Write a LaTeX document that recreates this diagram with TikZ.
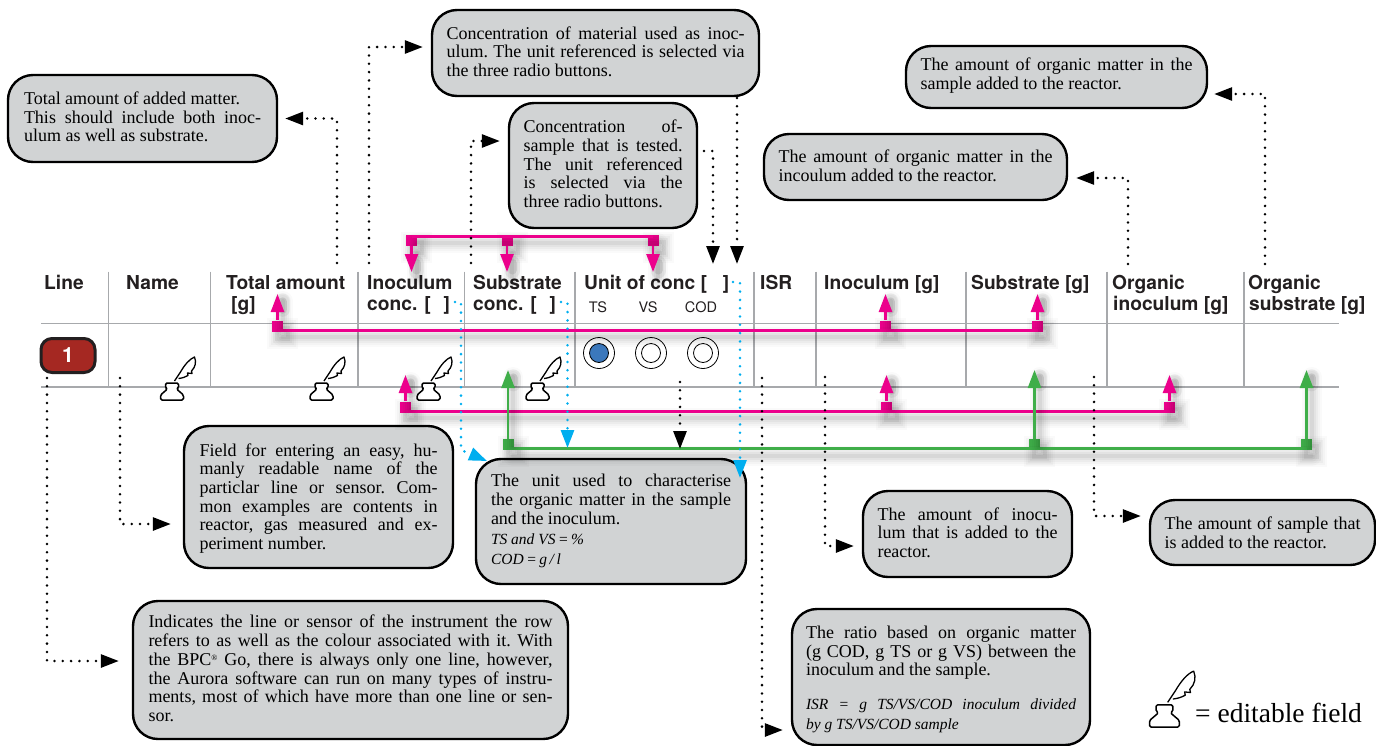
\documentclass[tikz,border=0pt]{standalone}
\usepackage{fontspec}
\setmainfont{Liberation Serif}
\newfontfamily\hdrfont{TeX Gyre Heros}
\usetikzlibrary{arrows.meta}
\definecolor{mag}{HTML}{EC008C}
\definecolor{grn}{HTML}{3FAE49}
\definecolor{cyn}{HTML}{00AEEF}
\definecolor{boxfill}{HTML}{D1D3D4}
\definecolor{gridc}{HTML}{A7A9AC}
\definecolor{hdrc}{HTML}{231F20}
\definecolor{badge}{HTML}{A52822}
\definecolor{radioblue}{HTML}{3B78BC}
\newcommand{\jl}[1]{\leavevmode\hbox to\linewidth{#1}}
\newcommand{\itl}[1]{{\itshape\fontsize{15.5}{18.7}\selectfont #1}}
\tikzset{
  x=1pt,y=-1pt,
  softshadow/.style={
    preaction={draw=black,draw opacity=.02,line width=20pt,line cap=round,transform canvas={shift={(5pt,-7pt)}},-},
    preaction={draw=black,draw opacity=.025,line width=16pt,line cap=round,transform canvas={shift={(5pt,-7pt)}},-},
    preaction={draw=black,draw opacity=.03,line width=12pt,line cap=round,transform canvas={shift={(5pt,-7pt)}},-},
    preaction={draw=black,draw opacity=.04,line width=8pt,line cap=round,transform canvas={shift={(5pt,-7pt)}},-},
    preaction={draw=black,draw opacity=.05,line width=4pt,line cap=round,transform canvas={shift={(5pt,-7pt)}},-}},
  headshadow/.style={
    preaction={draw=black,draw opacity=.06,line width=15pt,line cap=round,shorten <=#1,shorten >=4pt,transform canvas={shift={(5pt,-3pt)}},-},
    preaction={draw=black,draw opacity=.09,line width=9pt,line cap=round,shorten <=#1,shorten >=5pt,transform canvas={shift={(5pt,-3pt)}},-}},
  callout/.style={draw=black,line width=2.4pt,fill=boxfill,rounded corners=25pt,inner sep=0pt,align=flush left,text=black,
    font=\frenchspacing\fontsize{18}{18.7}\selectfont,execute at end node={\par\vspace{3pt}}},
  textdown/.style={execute at end node={\vspace{-#1pt}}},
  grid/.style={draw=gridc,line width=1.3pt},
  head/.style={font=\hdrfont\bfseries\fontsize{19.2}{21}\selectfont,text=hdrc,anchor=base west,inner sep=0pt},
  subhead/.style={font=\hdrfont\fontsize{14.5}{17}\selectfont,text=hdrc,anchor=base,inner sep=0pt},
  sqm/.style={draw=none,fill=mag,minimum size=11pt,inner sep=0pt,softshadow},
  sqg/.style={draw=none,fill=grn,minimum size=11pt,inner sep=0pt,softshadow},
  magarrow/.style={draw=mag,line width=2.6pt,-{Triangle[length=18pt,width=13pt]},softshadow,headshadow=14pt},
  grnarrow/.style={draw=grn,line width=2.6pt,-{Triangle[length=18pt,width=13pt]},softshadow,headshadow=58pt},
  magbar/.style={draw=mag,line width=2.6pt,softshadow},
  grnbar/.style={draw=grn,line width=2.6pt,softshadow},
  dotblack/.style={draw=black,line width=2.8pt,line cap=round,dash pattern=on 0pt off 8.3pt,-{Triangle[length=18pt,width=13pt]}},
  dotcyan/.style={draw=cyn,line width=2.8pt,line cap=round,dash pattern=on 0pt off 8.3pt,-{Triangle[length=18pt,width=13pt]}},
  radio/.style={draw=black,line width=.8pt,circle,inner sep=0pt},
  quillicon/.pic={
    \draw[line width=1.5pt,line join=round,rounded corners=1.5pt,fill=white]
      (5,-17) -- (18,-17) -- (18,-12) -- (16,-11) -- (23,-5) -- (23,0) -- (0,0) -- (0,-5) -- (7,-11) -- (5,-12) -- cycle;
    \draw[line width=1.3pt,line join=round,fill=white]
      (14,-19) -- (20,-28) .. controls (24,-35) and (29,-41) .. (34,-43)
      .. controls (36,-38) and (35,-33) .. (31,-29) -- (31.5,-26.5) -- (27,-27) -- (27.5,-24.5) .. controls (25,-23) and (22,-22) .. (18,-21.5);
  }
}
\begin{document}
\begin{tikzpicture}
\useasboundingbox (0,0) rectangle (1376,745);
% table grid
\foreach \gx in {108.5,210.5,358,464.5,575,754,816,966,1107,1244}
  \draw[grid] (\gx,271.5) -- (\gx,387);
\draw[grid] (41,323.5) -- (1339,323.5);
\draw[grid] (41,387) -- (1339,387);
% headers
\node[head] (hLine) at (44,289) {Line};
\node[head] (hName) at (126,289) {Name};
\node[head] (hTot) at (226,289) {Total amount};
\node[head] (hTotb) at (231,310) {[g]};
\node[head] (hIno) at (367,289) {Inoculum};
\node[head] (hInob) at (367,310) {conc. [\,\,\,\,]};
\node[head] (hSub) at (473,289) {Substrate};
\node[head] (hSubb) at (473,310) {conc. [\,\,\,\,]};
\node[head] (hUnit) at (584,289) {Unit of conc [\,\,\,\,\,]};
\node[subhead] (hTS) at (598,312) {TS};
\node[subhead] (hVS) at (648,312) {VS};
\node[subhead] (hCOD) at (701,312) {COD};
\node[head] (hISR) at (760,289) {ISR};
\node[head] (hIg) at (824,289) {Inoculum [g]};
\node[head] (hSg) at (971,289) {Substrate [g]};
\node[head] (hOi) at (1112,289) {Organic};
\node[head] (hOib) at (1113,310) {inoculum [g]};
\node[head] (hOs) at (1248,289) {Organic};
\node[head] (hOsb) at (1249,310) {substrate [g]};
% badge
\node[draw=hdrc,line width=3pt,fill=badge,rounded corners=11pt,minimum width=54pt,minimum height=34pt,inner sep=0pt,
  text=white,font=\hdrfont\bfseries\fontsize{21}{21}\selectfont] (badge1) at (68,355.5) {1};
% radios
\node[radio,minimum size=31pt] (r1) at (599,353) {};
\node[radio,minimum size=19pt,fill=radioblue] (r1i) at (599,353) {};
\node[radio,minimum size=31pt] (r2) at (651,353) {};
\node[radio,minimum size=19pt] (r2i) at (651,353) {};
\node[radio,minimum size=31pt] (r3) at (703,353) {};
\node[radio,minimum size=19pt] (r3i) at (703,353) {};
% quills
\pic at (160.5,400) {quillicon};
\pic at (310,400) {quillicon};
\pic at (417,400) {quillicon};
\pic at (526,400) {quillicon};
\pic[scale=1.3] at (1149.5,727) {quillicon};
\node[anchor=base west,inner sep=0pt,font=\fontsize{27.5}{30}\selectfont] (legend) at (1195,722) {= editable field};
% callouts
\node[callout,minimum width=269pt,minimum height=87pt,text width=237pt] (A) at (142.5,118.5) {Total amount of added matter.\\ \jl{This should include both inoc-}\\ ulum as well as substrate.};
\node[callout,minimum width=327pt,minimum height=86pt,text width=298pt] (B) at (595.5,53) {\jl{Concentration of material used as inoc-}\\ \jl{ulum. The unit referenced is selected via}\\ the three radio buttons.};
\node[callout,minimum width=188pt,minimum height=125pt,text width=159pt] (C) at (603,165.5) {\jl{Concentration of-}\\ \jl{sample that is tested.}\\ \jl{The unit referenced}\\ \jl{is selected via the}\\ three radio buttons.};
\node[callout,minimum width=301pt,minimum height=62pt,text width=272pt] (D) at (1056.5,77) {\jl{The amount of organic matter in the}\\ sample added to the reactor.};
\node[callout,minimum width=303pt,minimum height=66pt,text width=274pt] (E) at (915.5,167) {\jl{The amount of organic matter in the}\\ incoulum added to the reactor.};
\node[callout,textdown=6,minimum width=269pt,minimum height=142pt,text width=238pt] (F) at (318.5,497) {\jl{Field for entering an easy, hu-}\\ \jl{manly readable name of the}\\ \jl{particlar line or sensor. Com-}\\ \jl{mon examples are contents in}\\ \jl{reactor, gas measured and ex-}\\ periment number.};
\node[callout,textdown=2,minimum width=270pt,minimum height=125pt,text width=240pt] (G) at (611,521.5) {\jl{The unit used to characterise}\\ \jl{the organic matter in the sample}\\ and the inoculum.\\[2pt] \itl{TS and VS\,=\,\%}\\[1pt] \itl{COD\,=\,g\,/\,l}};
\node[callout,minimum width=209pt,minimum height=86pt,text width=180pt] (H) at (967.5,534) {\jl{The amount of inocu-}\\ \jl{lum that is added to the}\\ reactor.};
\node[callout,textdown=4,minimum width=225pt,minimum height=65pt,text width=196pt] (I) at (1262.5,532.5) {\jl{The amount of sample that}\\ is added to the reactor.};
\node[callout,minimum width=435pt,minimum height=138pt,text width=404pt] (J) at (350.5,670) {\jl{Indicates the line or sensor of the instrument the row}\\ \jl{refers to as well as the colour associated with it. With}\\ \jl{the BPC\raisebox{5pt}{\fontsize{8}{8}\selectfont ®} Go, there is always only one line, however,}\\ \jl{the Aurora software can run on many types of instru-}\\ \jl{ments, most of which have more than one line or sen-}\\ sor.};
\node[callout,textdown=8,minimum width=298pt,minimum height=136pt,text width=270pt] (K) at (941,677) {\jl{The ratio based on organic matter}\\ \jl{(g COD, g TS or g VS) between the}\\ inoculum and the sample.\\[15pt] \itl{\jl{ISR = g TS/VS/COD inoculum divided}}\\[1.5pt] \itl{by g TS/VS/COD sample}};
% magenta top bracket
\node[sqm] (m1) at (411.5,240.5) {};
\node[sqm] (m2) at (507,240.5) {};
\node[sqm] (m3) at (653,240.5) {};
\coordinate (m1t) at (411.5,272);
\coordinate (m2t) at (507,272);
\coordinate (m3t) at (653,272);
\draw[magbar] ([yshift=-1.5pt]m1.north) -- ([yshift=-1.5pt]m3.north);
\draw[magarrow] (m1) -- (m1t);
\draw[magarrow] (m2) -- (m2t);
\draw[magarrow] (m3) -- (m3t);
% magenta middle bracket
\node[sqm] (n1) at (277.5,326) {};
\node[sqm] (n2) at (885.5,326) {};
\node[sqm] (n3) at (1037.5,326) {};
\coordinate (n1t) at (277.5,294);
\coordinate (n2t) at (885.5,294);
\coordinate (n3t) at (1037.5,294);
\draw[magbar] ([yshift=1.5pt]n1.south) -- ([yshift=1.5pt]n3.south);
\draw[magarrow] (n1) -- (n1t);
\draw[magarrow] (n2) -- (n2t);
\draw[magarrow] (n3) -- (n3t);
% magenta lower bracket
\node[sqm] (o1) at (405.5,407) {};
\node[sqm] (o2) at (886.5,407) {};
\node[sqm] (o3) at (1169.5,407) {};
\coordinate (o1t) at (405.5,375);
\coordinate (o2t) at (886.5,375);
\coordinate (o3t) at (1169.5,375);
\draw[magbar] ([yshift=1.5pt]o1.south) -- ([yshift=1.5pt]o3.south);
\draw[magarrow] (o1) -- (o1t);
\draw[magarrow] (o2) -- (o2t);
\draw[magarrow] (o3) -- (o3t);
% green bracket
\node[sqg] (g1) at (508,444.5) {};
\node[sqg] (g2) at (1034.5,444.5) {};
\node[sqg] (g3) at (1306.5,444.5) {};
\coordinate (g1t) at (508,370);
\coordinate (g2t) at (1034.5,370);
\coordinate (g3t) at (1306.5,370);
\draw[grnbar] ([yshift=1.5pt]g1.south) -- ([yshift=1.5pt]g3.south);
\draw[grnarrow] (g1) -- (g1t);
\draw[grnarrow] (g2) -- (g2t);
\draw[grnarrow] (g3) -- (g3t);
% cyan dotted
\coordinate (c1) at (455,302);
\coordinate (c1a) at (461,302);
\coordinate (c1b) at (461,450);
\coordinate (c1t) at (487,461);
\draw[dotcyan] (c1) -- (c1a) -- (c1b) -- (c1t);
\coordinate (c2) at (561,302);
\coordinate (c2a) at (567.5,302);
\coordinate (c2t) at (567.5,448);
\draw[dotcyan] (c2) -- (c2a) -- (c2t);
\coordinate (c3) at (733,282);
\coordinate (c3a) at (740,282);
\coordinate (c3t) at (740,478);
\draw[dotcyan] (c3) -- (c3a) -- (c3t);
% black dotted
\coordinate (d1) at (337,263);
\draw[dotblack,shorten >=7pt] (d1) |- (A.east);
\coordinate (d2) at (369,263);
\draw[dotblack,shorten >=8pt] (d2) |- ([yshift=6pt]B.west);
\coordinate (d3) at (471,263);
\draw[dotblack,shorten >=8pt] (d3) |- ([yshift=24.5pt]C.west);
\coordinate (d4) at (704,151);
\coordinate (d4a) at (713,151);
\coordinate (d4t) at (713,264);
\draw[dotblack] (d4) -- (d4a) -- (d4t);
\coordinate (d5) at (737,98);
\coordinate (d5t) at (737,264);
\draw[dotblack] (d5) -- (d5t);
\coordinate (d6) at (1265,264);
\draw[dotblack,shorten >=6pt] (d6) |- ([yshift=-17pt]D.east);
\coordinate (d7) at (1128,264);
\draw[dotblack,shorten >=8pt] (d7) |- ([yshift=-11pt]E.east);
\coordinate (d8) at (120,378);
\draw[dotblack,shorten >=12pt] (d8) |- ([yshift=-27pt]F.west);
\coordinate (d9) at (47,378);
\draw[dotblack,shorten >=13pt] (d9) |- ([yshift=9pt]J.west);
\coordinate (d10) at (680,382);
\coordinate (d10t) at (680,449);
\draw[dotblack] (d10) -- (d10t);
\coordinate (d11) at (762,378);
\draw[dotblack,shorten >=8pt] (d11) |- ([yshift=-53pt]K.west);
\coordinate (d12) at (825,377);
\draw[dotblack,shorten >=8pt] (d12) |- ([yshift=-12pt]H.west);
\coordinate (d13) at (1094,377);
\draw[dotblack,shorten >=8pt] (d13) |- ([yshift=16.5pt]I.west);
\end{tikzpicture}
\end{document}
